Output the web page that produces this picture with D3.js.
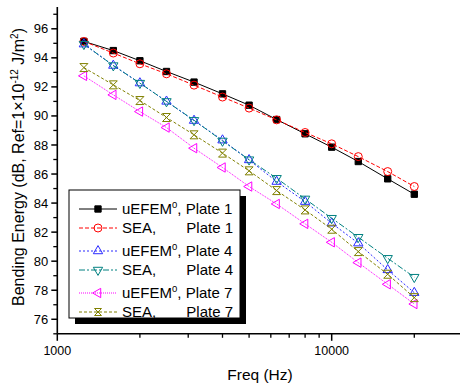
<!DOCTYPE html>
<html>
<head>
<meta charset="utf-8">
<script src="https://d3js.org/d3.v7.min.js"></script>
<style>
  body { margin: 0; background: #fff; }
  svg { font-family: "Liberation Sans", Arial, sans-serif; }
</style>
</head>
<body>
<svg id="svg" width="461" height="388"></svg>
<script>
const freqs = [1250, 1600, 2000, 2500, 3150, 4000, 5000, 6300, 8000, 10000, 12500, 16000, 20000]
const uefem1 = [95.13, 94.5, 93.8, 93.06, 92.33, 91.52, 90.74, 89.75, 88.77, 87.85, 86.86, 85.67, 84.61]
const sea1 = [95.13, 94.33, 93.59, 92.9, 92.12, 91.3, 90.54, 89.73, 88.86, 88.08, 87.2, 86.17, 85.14]
const uefem4 = [94.94, 93.47, 92.26, 91.0, 89.68, 88.33, 86.97, 85.48, 84.1, 82.61, 81.24, 79.4, 77.83]
const sea4 = [94.94, 93.47, 92.26, 91.0, 89.7, 88.28, 86.99, 85.71, 84.29, 82.96, 81.65, 80.2, 78.9]
const uefem7 = [92.76, 91.45, 90.3, 89.2, 87.78, 86.45, 85.14, 83.94, 82.57, 81.3, 79.9, 78.41, 77.05]
const sea7 = [93.33, 92.14, 91.06, 89.89, 88.7, 87.44, 86.22, 84.86, 83.53, 82.2, 80.66, 79.1, 77.49]

const yTicks = [76, 78, 80, 82, 84, 86, 88, 90, 92, 94, 96]
const xTicks = [1000, 10000]

const series = [
  { name: 'uEFEM', plate: 'Plate 1', values: uefem1, color: '#000000', dash: null, symbol: 'square', fill: true },
  { name: 'SEA,', plate: 'Plate 1', values: sea1, color: '#ff0000', dash: '4,2', symbol: 'circle' },
  { name: 'uEFEM', plate: 'Plate 4', values: uefem4, color: '#2b2bff', dash: '2,2', symbol: 'up' },
  { name: 'SEA,', plate: 'Plate 4', values: sea4, color: '#008080', dash: '6,2,2,2', symbol: 'down' },
  { name: 'uEFEM', plate: 'Plate 7', values: uefem7, color: '#ff00ff', dash: '1,1', symbol: 'left' },
  { name: 'SEA,', plate: 'Plate 7', values: sea7, color: '#808000', dash: '3,2', symbol: 'bowtie' }
]

const svg = d3.select('#svg')

const xScale = d3.scaleLog()
  .domain([1000, 29350])
  .range([57.3, 460])

const yScale = d3.scaleLinear()
  .domain([75, 97.5])
  .range([333.8, 7])

// axes
const xAxis = svg.append('g').attr('transform', 'translate(0,333.8)')
xAxis.append('line')
  .attr('x1', xScale.range()[0]).attr('x2', xScale.range()[1])
  .attr('stroke', '#000').attr('stroke-width', 1.6)
const xMinor = []
for (let d = 2000; d <= 29000; d += (d < 10000 ? 1000 : 10000)) {
  if (d !== 10000) xMinor.push(d)
}
xAxis.selectAll('.minor').data(xMinor).enter().append('line')
  .attr('x1', d => xScale(d)).attr('x2', d => xScale(d))
  .attr('y1', 0).attr('y2', 4)
  .attr('stroke', '#000').attr('stroke-width', 1.3)
xAxis.selectAll('.major').data(xTicks).enter().append('line')
  .attr('x1', d => xScale(d)).attr('x2', d => xScale(d))
  .attr('y1', 0).attr('y2', 7)
  .attr('stroke', '#000').attr('stroke-width', 1.5)
xAxis.selectAll('.lab').data(xTicks).enter().append('text')
  .attr('x', d => xScale(d)).attr('y', 21)
  .attr('text-anchor', 'middle')
  .attr('font-size', 12.5)
  .text(d => d)

const yAxis = svg.append('g').attr('transform', 'translate(57.3,0)')
yAxis.append('line')
  .attr('y1', yScale.range()[0]).attr('y2', yScale.range()[1])
  .attr('stroke', '#000').attr('stroke-width', 1.6)
yAxis.selectAll('.minor').data(d3.range(75, 98, 2)).enter().append('line')
  .attr('y1', d => yScale(d)).attr('y2', d => yScale(d))
  .attr('x1', 0).attr('x2', -4)
  .attr('stroke', '#000').attr('stroke-width', 1.3)
yAxis.selectAll('.major').data(yTicks).enter().append('line')
  .attr('y1', d => yScale(d)).attr('y2', d => yScale(d))
  .attr('x1', 0).attr('x2', -6)
  .attr('stroke', '#000').attr('stroke-width', 1.5)
yAxis.selectAll('.lab').data(yTicks).enter().append('text')
  .attr('x', -9).attr('y', d => yScale(d))
  .attr('dy', '0.35em')
  .attr('text-anchor', 'end')
  .attr('font-size', 13)
  .text(d => d)

svg.append('text')
  .attr('x', 260).attr('y', 380)
  .attr('text-anchor', 'middle')
  .attr('font-size', 15.5)
  .text('Freq (Hz)')

const yTitle = svg.append('text')
  .attr('transform', 'translate(24,167) rotate(-90)')
  .attr('text-anchor', 'middle')
  .attr('font-size', 16)
yTitle.append('tspan').text('Bending Energy (dB, Ref=1\u00d710')
yTitle.append('tspan').attr('dy', -6).attr('font-size', 10).text('-12')
yTitle.append('tspan').attr('dy', 6).text(' J/m')
yTitle.append('tspan').attr('dy', -6).attr('font-size', 10).text('2')
yTitle.append('tspan').attr('dy', 6).text(')')

// markers
function drawMarker(g, s, size) {
  const sym = {
    square: d3.symbolSquare, circle: d3.symbolCircle,
    up: d3.symbolTriangle, down: d3.symbolTriangle, left: d3.symbolTriangle
  }
  if (s.symbol === 'bowtie') {
    const r = size
    g.append('path')
      .attr('d', `M${-r},${-r}L${r},${-r}L${-r},${r}L${r},${r}Z`)
      .attr('fill', 'none').attr('stroke', s.color).attr('stroke-width', 1)
    return
  }
  const rot = { down: 180, left: -90 }[s.symbol] || 0
  const area = s.symbol === 'square' ? 40 : (s.symbol === 'circle' ? 50 : 38)
  g.append('path')
    .attr('d', d3.symbol().type(sym[s.symbol]).size(area)())
    .attr('transform', `rotate(${rot})`)
    .attr('fill', s.fill ? s.color : '#fff')
    .attr('fill-opacity', s.fill ? 1 : 0)
    .attr('stroke', s.color).attr('stroke-width', 1)
}

const lineGen = d3.line()
  .x((d, i) => xScale(freqs[i]))
  .y(d => yScale(d))

series.forEach(s => {
  svg.append('path')
    .attr('d', lineGen(s.values))
    .attr('fill', 'none')
    .attr('stroke', s.color)
    .attr('stroke-width', 1)
    .attr('stroke-dasharray', s.dash)
  s.values.forEach((v, i) => {
    const g = svg.append('g').attr('transform', `translate(${xScale(freqs[i])},${yScale(v)})`)
    drawMarker(g, s, 4)
  })
})

// legend
const lg = svg.append('g')
lg.append('rect').attr('x', 75).attr('y', 196).attr('width', 171).attr('height', 128).attr('fill', '#000')
lg.append('rect').attr('x', 69).attr('y', 190).attr('width', 171).attr('height', 128)
  .attr('fill', '#fff').attr('stroke', '#000').attr('stroke-width', 1)
let rowY = 190
series.forEach(s => {
  rowY += s.name === 'uEFEM' ? (rowY === 190 ? 19 : 23) : 19
  lg.append('line')
    .attr('x1', 79).attr('x2', 117).attr('y1', rowY).attr('y2', rowY)
    .attr('stroke', s.color).attr('stroke-width', 1)
    .attr('stroke-dasharray', s.dash)
  drawMarker(lg.append('g').attr('transform', `translate(98,${rowY})`), s, 3.5)
  const t = lg.append('text')
    .attr('x', 122).attr('y', rowY).attr('dy', '0.36em')
    .attr('font-size', 15)
  if (s.name === 'uEFEM') {
    t.append('tspan').text('uEFEM')
    t.append('tspan').attr('dy', -6).attr('font-size', 9.5).text('0')
    t.append('tspan').attr('dy', 6).text(', ' + s.plate)
  } else {
    t.append('tspan').text('SEA,')
    lg.append('text')
      .attr('x', 233).attr('y', rowY).attr('dy', '0.36em')
      .attr('text-anchor', 'end')
      .attr('font-size', 15)
      .text(s.plate)
  }
})
</script>
</body>
</html>
